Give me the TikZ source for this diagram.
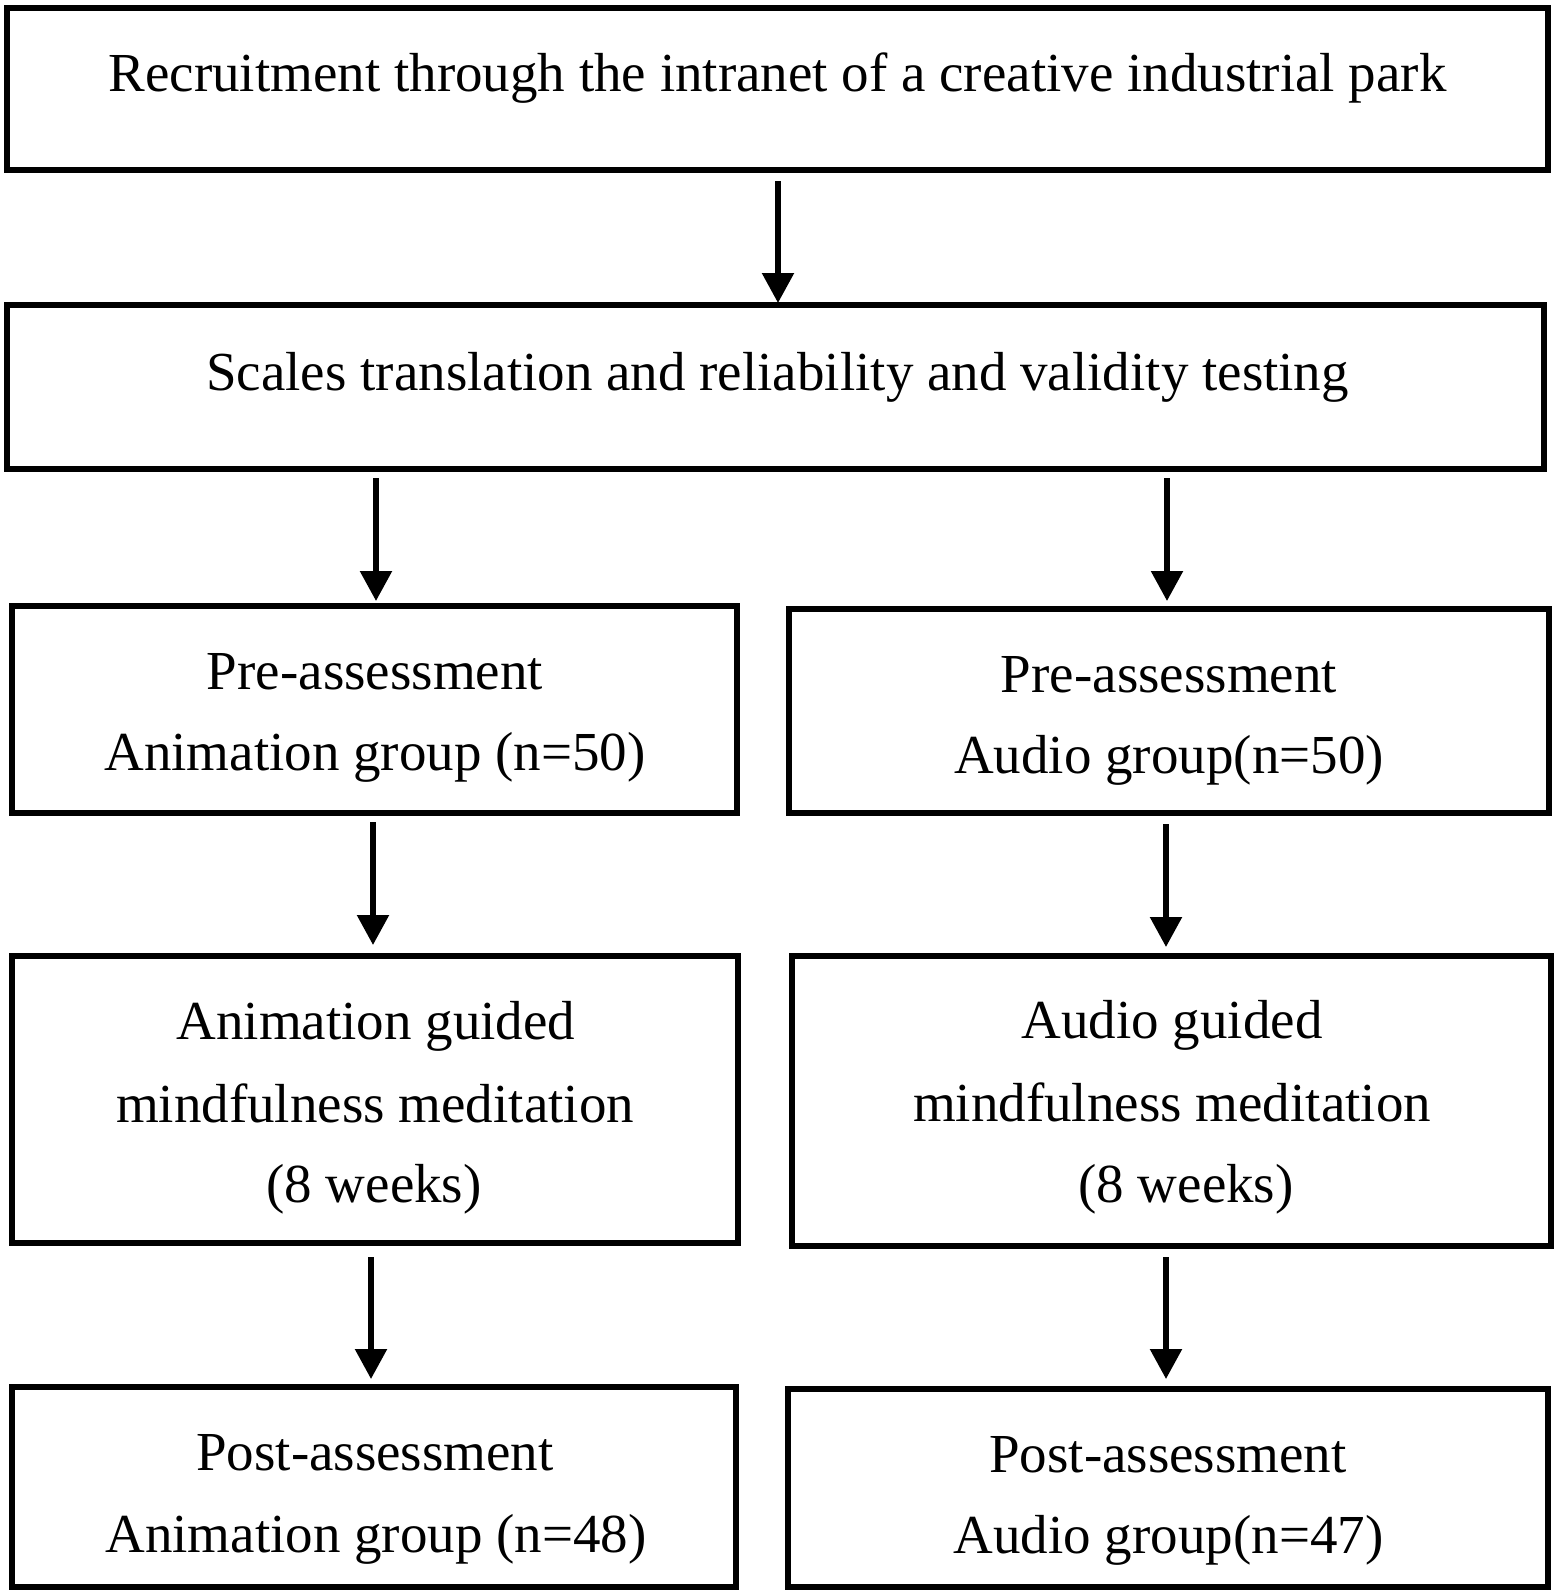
\documentclass[tikz,border=0pt]{standalone}
\usepackage{fontspec}
\setmainfont{Liberation Serif}
\usetikzlibrary{arrows.meta}
\begin{document}
\begin{tikzpicture}[x=1pt,y=-1pt,
  box/.style={draw=black,line width=6pt,rectangle,inner sep=0pt,fill=white},
  txt/.style={anchor=base,inner sep=0pt,font=\fontsize{55pt}{60pt}\selectfont},
  arr/.style={line width=5.5pt,-{Triangle[width=31pt,length=30pt]}}]
\useasboundingbox[fill=white] (0,0) rectangle (1559,1595);
% boxes (centre, width, height by line centres)
\node[box,minimum width=1541pt,minimum height=162pt] (b1) at (777.5,89) {};
\node[box,minimum width=1537pt,minimum height=164pt] (b2) at (775.5,387) {};
\node[box,minimum width=725pt,minimum height=207pt] (b3) at (374.5,709.5) {};
\node[box,minimum width=760pt,minimum height=204pt] (b4) at (1169,711) {};
\node[box,minimum width=726pt,minimum height=287pt] (b5) at (375,1099.5) {};
\node[box,minimum width=759pt,minimum height=290pt] (b6) at (1171.5,1101) {};
\node[box,minimum width=724pt,minimum height=200pt] (b7) at (374,1487) {};
\node[box,minimum width=760pt,minimum height=198pt] (b8) at (1168,1488) {};
% texts
\node[txt] (t1) at (777.5,91) {Recruitment through the intranet of a creative industrial park};
\node[txt] (t2) at (777.5,390) {Scales translation and reliability and validity testing};
\node[txt] (t3a) at (375,689) {Pre-assessment};
\node[txt] (t3b) at (375,770) {Animation group (n=50)};
\node[txt] (t4a) at (1169,692) {Pre-assessment};
\node[txt] (t4b) at (1169,773) {Audio group(n=50)};
\node[txt] (t5a) at (376,1039) {Animation guided};
\node[txt] (t5b) at (375,1122) {mindfulness meditation};
\node[txt] (t5c) at (374,1202) {(8 weeks)};
\node[txt] (t6a) at (1172,1038) {Audio guided};
\node[txt] (t6b) at (1172,1121) {mindfulness meditation};
\node[txt] (t6c) at (1186,1202) {(8 weeks)};
\node[txt] (t7a) at (375,1470) {Post-assessment};
\node[txt] (t7b) at (376,1552) {Animation group (n=48)};
\node[txt] (t8a) at (1168,1472) {Post-assessment};
\node[txt] (t8b) at (1168.5,1553) {Audio group(n=47)};
% arrows
\draw[arr,shorten <=8pt,shorten >=-1pt] ([xshift=0.5pt]b1.south) -- ([xshift=0.5pt]b1.south |- b2.north);
\draw[arr,shorten <=6pt,shorten >=2pt] ([xshift=1.5pt]b2.south -| b3.north) -- ([xshift=1.5pt]b3.north);
\draw[arr,shorten <=6pt,shorten >=5pt] ([xshift=-2pt]b2.south -| b4.north) -- ([xshift=-2pt]b4.north);
\draw[arr,shorten <=6pt,shorten >=8pt] ([xshift=-1.5pt]b3.south) -- ([xshift=-1.5pt]b3.south |- b5.north);
\draw[arr,shorten <=8pt,shorten >=6pt] ([xshift=-3pt]b4.south) -- ([xshift=-3pt]b4.south |- b6.north);
\draw[arr,shorten <=11pt,shorten >=5pt] ([xshift=-4pt]b5.south) -- ([xshift=-4pt]b5.south |- b7.north);
\draw[arr,shorten <=8pt,shorten >=7pt] ([xshift=-5.5pt]b6.south) -- ([xshift=-5.5pt]b6.south |- b8.north);
\end{tikzpicture}
\end{document}
